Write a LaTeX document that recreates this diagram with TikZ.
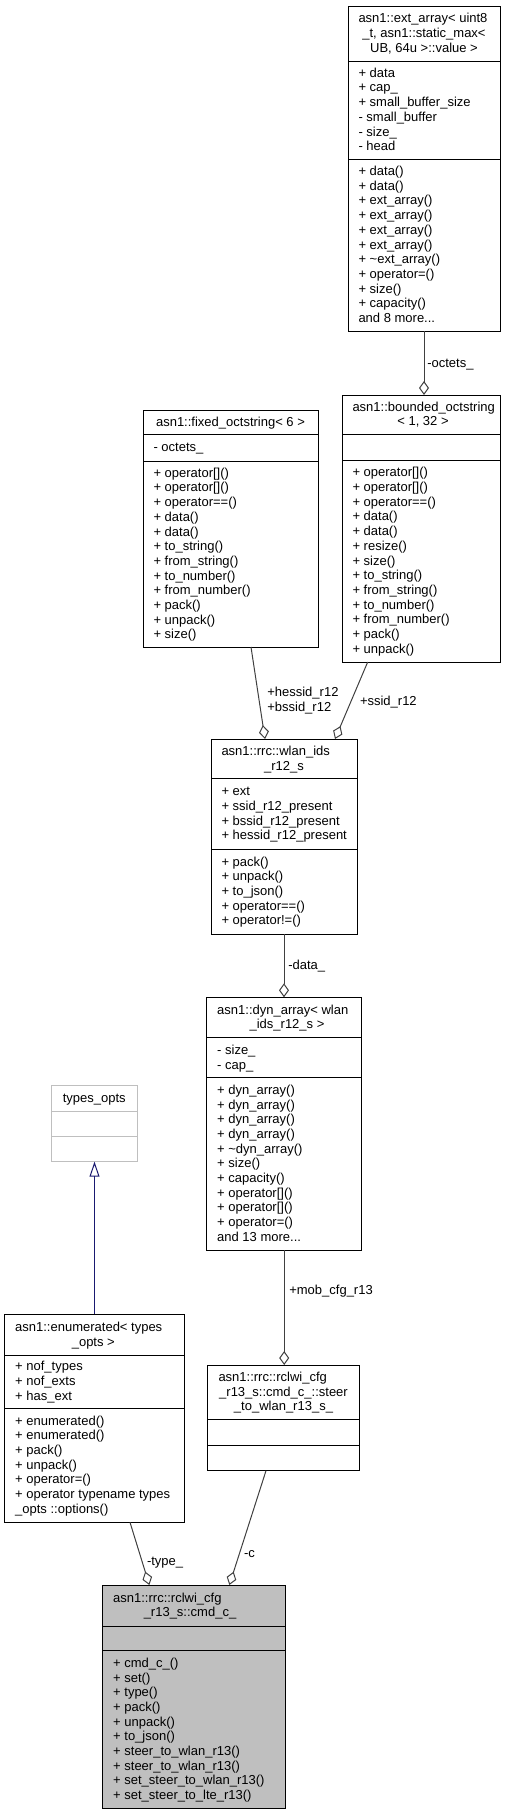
\documentclass[tikz,border=0pt]{standalone}
\usepackage{fontspec}
\setmainfont{Liberation Sans}
\usetikzlibrary{arrows.meta}
\definecolor{edgegray}{HTML}{404040}
\definecolor{navyedge}{HTML}{191970}
\definecolor{lightborder}{HTML}{BFBFBF}
\definecolor{cmdfill}{HTML}{BFBFBF}
\newcommand{\mydots}{...}
\tikzset{
  boxframe/.style={line width=1pt, inner sep=0pt, outer sep=0pt},
  txt/.style={inner sep=0pt, outer sep=0pt, font=\fontsize{13}{14.67}\selectfont, text=black},
  agg/.style={draw=edgegray, line width=1pt, -{Diamond[open, length=14pt, width=10pt]}},
  inh/.style={draw=navyedge, line width=1pt, -{Triangle[open, length=15pt, width=10pt]}},
  lbl/.style={txt, anchor=base west},
}
% name, left, top, right, bottom, sep1, sep2, draw colour, fill colour
\newcommand{\umlbox}[9]{%
  \node[boxframe, draw=#8, fill=#9, minimum width=#4pt-#2pt, minimum height=#5pt-#3pt, anchor=north west] (#1) at (#2,#3) {};
  \draw[line width=1pt, draw=#8] (#2,#6) -- (#4,#6) (#2,#7) -- (#4,#7);
}
% name, x, anchor, ytop, ybot, n, start index, list
\newcommand{\seclines}[8]{%
  \foreach \lineitem [count=\i from #7] in {#8} {
    \pgfmathsetmacro\yy{(#4+#5)/2-(#6-1)*7.335+\i*14.67+4}
    \node[txt, anchor=#3] (#1\i) at (#2,\yy) {\lineitem};
  }
}
\begin{document}
\begin{tikzpicture}[x=1pt, y=-1pt]
\useasboundingbox (0,0) rectangle (511,1815);

% ---------- ext_array ----------
\umlbox{ext}{348}{6}{500}{331}{61}{159}{black}{white}
\seclines{ext-t}{358.5}{base west}{6}{61}{3}{0}{{asn1::ext\_array< uint8}}
\seclines{ext-u}{424}{base}{6}{61}{3}{1}{{\_t, asn1::static\_max<},{UB, 64u >::value >}}
\seclines{ext-a}{358.5}{base west}{61}{159}{6}{0}{+ data,+ cap\_,+ small\_buffer\_size,- small\_buffer,- size\_,- head}
\seclines{ext-m}{358.5}{base west}{159}{331}{11}{0}{+ data(),+ data(),+ ext\_array(),+ ext\_array(),+ ext\_array(),+ ext\_array(),+ \textasciitilde ext\_array(),+ operator=(),+ size(),+ capacity(),and 8 more\mydots}

% ---------- bounded_octstring ----------
\umlbox{bnd}{342}{395}{500}{662}{434}{460}{black}{white}
\seclines{bnd-t}{352.5}{base west}{395}{434}{2}{0}{{asn1::bounded\_octstring}}
\seclines{bnd-u}{423}{base}{395}{434}{2}{1}{{< 1, 32 >}}
\seclines{bnd-m}{352.5}{base west}{460}{662}{13}{0}{+ operator[](),+ operator[](),+ operator==(),+ data(),+ data(),+ resize(),+ size(),+ to\_string(),+ from\_string(),+ to\_number(),+ from\_number(),+ pack(),+ unpack()}

% ---------- fixed_octstring ----------
\umlbox{fix}{143}{410}{318}{647}{434}{461}{black}{white}
\seclines{fix-t}{230.5}{base}{410}{434}{1}{0}{{asn1::fixed\_octstring< 6 >}}
\seclines{fix-a}{153.5}{base west}{434}{461}{1}{0}{- octets\_}
\seclines{fix-m}{153.5}{base west}{461}{647}{12}{0}{+ operator[](),+ operator[](),+ operator==(),+ data(),+ data(),+ to\_string(),+ from\_string(),+ to\_number(),+ from\_number(),+ pack(),+ unpack(),+ size()}

% ---------- wlan_ids_r12_s ----------
\umlbox{wlan}{211}{739}{357}{934}{778.5}{849}{black}{white}
\seclines{wlan-t}{221.5}{base west}{739}{778.5}{2}{0}{{asn1::rrc::wlan\_ids}}
\seclines{wlan-u}{284}{base}{739}{778.5}{2}{1}{{\_r12\_s}}
\seclines{wlan-a}{221.5}{base west}{778.5}{849}{4}{0}{+ ext,+ ssid\_r12\_present,+ bssid\_r12\_present,+ hessid\_r12\_present}
\seclines{wlan-m}{221.5}{base west}{849}{934}{5}{0}{+ pack(),+ unpack(),+ to\_json(),+ operator==(),+ operator!=()}

% ---------- dyn_array ----------
\umlbox{dyn}{206.7}{997.3}{361.7}{1250}{1037.7}{1077.7}{black}{white}
\seclines{dyn-t}{217.2}{base west}{997.3}{1037.7}{2}{0}{{asn1::dyn\_array< wlan}}
\seclines{dyn-u}{287}{base}{997.3}{1037.7}{2}{1}{{\_ids\_r12\_s >}}
\seclines{dyn-a}{217.2}{base west}{1037.7}{1077.7}{2}{0}{- size\_,- cap\_}
\seclines{dyn-m}{217.2}{base west}{1077.7}{1250}{11}{0}{+ dyn\_array(),+ dyn\_array(),+ dyn\_array(),+ dyn\_array(),+ \textasciitilde dyn\_array(),+ size(),+ capacity(),+ operator[](),+ operator[](),+ operator=(),and 13 more\mydots}

% ---------- types_opts ----------
\umlbox{types}{51}{1085.7}{137.7}{1161.7}{1111.7}{1136.7}{lightborder}{white}
\seclines{types-t}{94.3}{base}{1085.7}{1111.7}{1}{0}{{types\_opts}}

% ---------- enumerated ----------
\umlbox{enum}{4.7}{1314.3}{184.3}{1522.3}{1355}{1408.3}{black}{white}
\seclines{enum-t}{15.2}{base west}{1314.3}{1355}{2}{0}{{asn1::enumerated< types}}
\seclines{enum-u}{93.3}{base}{1314.3}{1355}{2}{1}{{\_opts >}}
\seclines{enum-a}{15.2}{base west}{1355}{1408.3}{3}{0}{+ nof\_types,+ nof\_exts,+ has\_ext}
\seclines{enum-m}{15.2}{base west}{1408.3}{1522.3}{7}{0}{+ enumerated(),+ enumerated(),+ pack(),+ unpack(),+ operator=(),+ operator typename types,\_opts ::options()}

% ---------- steer_to_wlan_r13_s_ ----------
\umlbox{steer}{207.7}{1365}{359.3}{1470.7}{1419.3}{1445.7}{black}{white}
\seclines{steer-t}{218.5}{base west}{1365}{1419.3}{3}{0}{{asn1::rrc::rclwi\_cfg}}
\seclines{steer-u}{283.5}{base}{1365}{1419.3}{3}{1}{{\_r13\_s::cmd\_c\_::steer},{\_to\_wlan\_r13\_s\_}}

% ---------- cmd_c_ ----------
\umlbox{cmd}{102.7}{1585}{285}{1808.3}{1626}{1650.7}{black}{cmdfill}
\seclines{cmd-t}{113.2}{base west}{1585}{1626}{2}{0}{{asn1::rrc::rclwi\_cfg}}
\seclines{cmd-u}{190}{base}{1585}{1626}{2}{1}{{\_r13\_s::cmd\_c\_}}
\seclines{cmd-m}{113.2}{base west}{1650.7}{1808.3}{10}{0}{+ cmd\_c\_(),+ set(),+ type(),+ pack(),+ unpack(),+ to\_json(),+ steer\_to\_wlan\_r13(),+ steer\_to\_wlan\_r13(),+ set\_steer\_to\_wlan\_r13(),+ set\_steer\_to\_lte\_r13()}

% ---------- connectors ----------
\draw[agg] (ext.south) -- (ext.south |- bnd.north);
\draw[agg] ([xshift=20.5pt]fix.south) -- ([xshift=-19pt]wlan.north);
\draw[agg] ([xshift=-53.3pt]bnd.south) -- ([xshift=51pt]wlan.north);
\draw[agg] (wlan.south) -- (wlan.south |- dyn.north);
\draw[agg] (dyn.south) -- (dyn.south |- steer.north);
\draw[agg] ([xshift=-17.5pt]steer.south) -- ([xshift=35.5pt]cmd.north);
\draw[agg] ([xshift=35.5pt]enum.south) -- ([xshift=-44.5pt]cmd.north);
\draw[inh] (enum.north) -- (enum.north |- types.south);

% ---------- connector labels ----------
\node[lbl] (l-octets) at (427.3,367.3) {-octets\_};
\node[lbl] (l-hessid) at (267.3,696.7) {+hessid\_r12};
\node[lbl] (l-bssid) at (267.3,711.3) {+bssid\_r12};
\node[lbl] (l-ssid) at (360,705) {+ssid\_r12};
\node[lbl] (l-data) at (288.3,969) {-data\_};
\node[lbl] (l-mob) at (289.3,1294) {+mob\_cfg\_r13};
\node[lbl] (l-c) at (244,1557) {-c};
\node[lbl] (l-type) at (147,1565.7) {-type\_};
\end{tikzpicture}
\end{document}
